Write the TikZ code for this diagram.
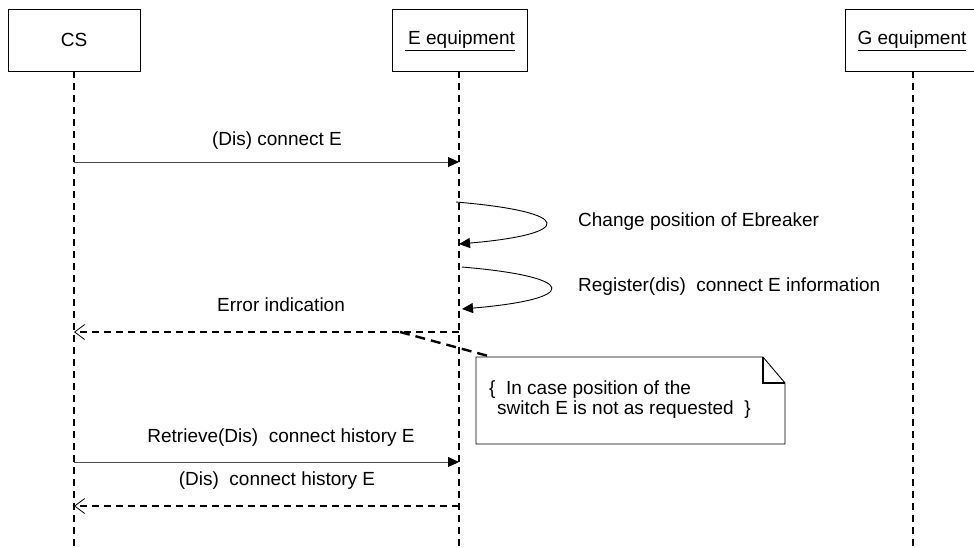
\documentclass[tikz,border=0pt]{standalone}
\usepackage{fontspec}
\setmainfont{Liberation Sans}
\usetikzlibrary{arrows.meta}
\begin{document}
\begin{tikzpicture}[x=1pt,y=-1pt,
  txt/.style={font=\fontsize{19}{23}\selectfont, inner sep=0pt},
  actor/.style={draw=black, line width=1pt, fill=white},
  lifeline/.style={line width=1.4pt, dash pattern=on 7pt off 5pt},
  callmsg/.style={line width=0.9pt, draw=black!70, -{Triangle[length=11pt,width=10pt,fill=black,color=black]}},
  selfmsg/.style={line width=0.9pt, -{Triangle[length=11pt,width=10pt]}},
  replymsg/.style={line width=1.4pt, dash pattern=on 7pt off 5pt, -{Straight Barb[length=10pt,width=15pt,line width=0.8pt]}},
  notelink/.style={line width=2.4pt, dash pattern=on 10pt off 6pt},
  notebox/.style={draw=black, line width=0.9pt, fill=white}
]
\useasboundingbox (0,0) rectangle (974,547);
\fill[white] (0,0) rectangle (974,547);

% actors
\draw[actor] (8,9) rectangle (140,71);
\node[txt] (cs) at (74,40) {CS};
\draw[actor] (392,9) rectangle (527,71);
\node[txt] (eeq) at (460,41) {\underline{\,E equipment}};
\draw[actor] (845,9) rectangle (982,71);
\node[txt] (geq) at (912,41) {\underline{G equipment}};

% lifeline ends
\coordinate (csTop) at (74,71);
\coordinate (csBot) at (74,547);
\coordinate (eTop) at (459,71);
\coordinate (eBot) at (459,547);
\coordinate (gTop) at (913,71);
\coordinate (gBot) at (913,547);
\draw[lifeline] (csTop) -- (csBot);
\draw[lifeline] (eTop) -- (eBot);
\draw[lifeline] (gTop) -- (gBot);

% message 1
\coordinate (m1a) at (74,162);
\coordinate (m1b) at (459,162);
\draw[callmsg] (m1a) -- (m1b);
\node[txt] (l1) at (277,141) {(Dis) connect E};

% self message 1
\coordinate (s1a) at (456,202);
\coordinate (s1b) at (459,244);
\draw[selfmsg] (s1a) .. controls (575,212) and (575,234) .. (s1b);
\node[txt, anchor=west] (l2) at (578,222) {Change position of Ebreaker};

% self message 2
\coordinate (s2a) at (462,267);
\coordinate (s2b) at (462,309);
\draw[selfmsg] (s2a) .. controls (580,277) and (580,299) .. (s2b);
\node[txt, anchor=west] (l3) at (578,287) {Register(dis) \ connect E information};

% error indication
\coordinate (m3a) at (459,332);
\coordinate (m3b) at (74,332);
\draw[replymsg] (m3a) -- (m3b);
\node[txt] (l4) at (281,305) {Error indication};

% note
\draw[notebox] (476,357) -- (763,357) -- (785,383) -- (785,444) -- (476,444) -- cycle;
\draw[line width=1.2pt] (763,357) -- (763,383) -- (785,383);
\node[txt, anchor=west] (n1) at (489,390) {\{ \ In case position of the};
\node[txt, anchor=west] (n2) at (497,410) {switch E is not as requested \ \}};
\coordinate (nl) at (400,332);
\coordinate (nr) at (492,357);
\draw[notelink] (nl) -- (nr);

% retrieve
\coordinate (m4a) at (74,462);
\coordinate (m4b) at (459,462);
\draw[callmsg] (m4a) -- (m4b);
\node[txt] (l5) at (281,438) {Retrieve(Dis) \ connect history E};

% reply
\coordinate (m5a) at (459,506);
\coordinate (m5b) at (74,506);
\draw[replymsg] (m5a) -- (m5b);
\node[txt] (l6) at (277,481) {(Dis) \ connect history E};
\end{tikzpicture}
\end{document}
